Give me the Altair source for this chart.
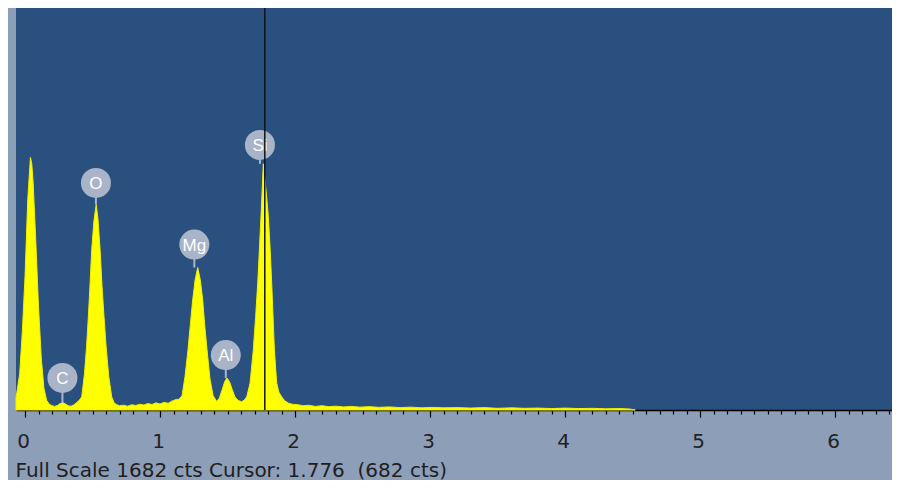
import altair as alt
import pandas as pd

# ---- spectrum (energy in keV, counts) ----
energy_kev = [-0.067, -0.04, -0.02, 0.00, 0.02, 0.04, 0.05, 0.06, 0.08, 0.10,
              0.12, 0.14, 0.16, 0.18, 0.20, 0.22, 0.24, 0.26, 0.28, 0.30,
              0.32, 0.34, 0.36, 0.38, 0.40, 0.42, 0.44, 0.455, 0.469, 0.48,
              0.494, 0.51, 0.527, 0.54, 0.556, 0.57, 0.585, 0.60, 0.62, 0.642,
              0.66, 0.68, 0.70, 0.73, 0.76, 0.79, 0.82, 0.85, 0.88, 0.91,
              0.94, 0.97, 1.00, 1.03, 1.06, 1.09, 1.12, 1.14, 1.163, 1.185,
              1.207, 1.225, 1.242, 1.26, 1.279, 1.298, 1.316, 1.33, 1.348, 1.37,
              1.393, 1.42, 1.44, 1.46, 1.48, 1.496, 1.515, 1.535, 1.555, 1.578,
              1.605, 1.625, 1.642, 1.667, 1.691, 1.708, 1.724, 1.748, 1.765, 1.785,
              1.802, 1.815, 1.827, 1.847, 1.864, 1.88, 1.901, 1.925, 1.95, 1.98,
              2.02, 2.06, 2.10, 2.15, 2.20, 2.25, 2.30, 2.36, 2.42, 2.48,
              2.55, 2.62, 2.70, 2.78, 2.86, 2.94, 3.02, 3.10, 3.20, 3.30,
              3.40, 3.50, 3.60, 3.70, 3.80, 3.90, 4.00, 4.10, 4.20, 4.30,
              4.40, 4.48, 4.52]
counts = [50, 150, 330, 560, 880, 1057, 1030, 950, 700, 430,
          220, 90, 40, 24, 18, 15, 19, 27, 31, 25,
          18, 16, 21, 30, 40, 55, 150, 260, 390, 510,
          671, 790, 860, 800, 671, 520, 390, 270, 140, 55,
          30, 22, 18, 20, 16, 22, 19, 24, 21, 27,
          23, 30, 25, 32, 28, 38, 44, 45, 60, 140,
          252, 360, 461, 545, 596, 545, 461, 360, 252, 130,
          60, 36, 50, 85, 120, 134, 118, 85, 55, 40,
          35, 42, 55, 113, 252, 390, 533, 811, 1030, 920,
          811, 680, 533, 252, 113, 75, 55, 38, 29, 24,
          22, 18, 20, 15, 18, 14, 16, 13, 15, 12,
          14, 11, 13, 10, 12, 9, 11, 9, 10, 8,
          10, 7, 9, 7, 8, 6, 8, 6, 7, 5,
          6, 4, 0]

# ---- element markers ----
elements = ["C", "O", "Mg", "Al", "Si"]
line_kev = [0.277, 0.525, 1.254, 1.487, 1.740]
peak_cts = [30, 860, 596, 134, 1030]
label_cts = [134, 950, 692, 230, 1109]

# ---- cursor ----
cursor_kev = [1.776]

tick_values = [0.0, 0.1, 0.2, 0.3, 0.4, 0.5, 0.6, 0.7, 0.8, 0.9,
               1.0, 1.1, 1.2, 1.3, 1.4, 1.5, 1.6, 1.7, 1.8, 1.9,
               2.0, 2.1, 2.2, 2.3, 2.4, 2.5, 2.6, 2.7, 2.8, 2.9,
               3.0, 3.1, 3.2, 3.3, 3.4, 3.5, 3.6, 3.7, 3.8, 3.9,
               4.0, 4.1, 4.2, 4.3, 4.4, 4.5, 4.6, 4.7, 4.8, 4.9,
               5.0, 5.1, 5.2, 5.3, 5.4, 5.5, 5.6, 5.7, 5.8, 5.9,
               6.0, 6.1, 6.2, 6.3, 6.4]

footer = "Full Scale 1682 cts Cursor: 1.776\u00a0 (682 cts)"

spec_df = pd.DataFrame({"kev": energy_kev, "cts": counts})
lab_df = pd.DataFrame({"el": elements, "kev": line_kev,
                       "peak": peak_cts, "lab": label_cts})
cur_df = pd.DataFrame({"kev": cursor_kev})

major_test = "abs(datum.value - round(datum.value)) < 0.001"

x_axis = alt.Axis(
    values=tick_values,
    tickSize={"condition": {"test": major_test, "value": 7}, "value": 4},
    labelExpr=f"{major_test} ? format(datum.value, 'd') : ''",
    labelOverlap=False, labelFlush=False, labelBound=False,
    labelFont="DejaVu Sans", labelFontSize=20, labelColor="#222222",
    labelPadding=14, labelOffset=-2,
    domainColor="#000000", domainWidth=1.5,
    tickColor="#000000", tickWidth=1.2,
    grid=False,
    title=footer, titleFont="DejaVu Sans", titleFontSize=20,
    titleFontWeight="normal", titleColor="#1e1e1e",
    titleX=-1, titleY=66, titleAlign="left", titleBaseline="alphabetic",
    titleAnchor="start",
)
x_scale = alt.Scale(domain=[-0.067, 6.422], nice=False, zero=False)
y_scale = alt.Scale(domain=[0, 1682], nice=False, zero=True)

x_enc = alt.X("kev:Q", scale=x_scale, axis=x_axis)

area = alt.Chart(spec_df).mark_area(
    color="#ffff00", interpolate="linear", stroke="#f0f000", strokeWidth=1
).encode(
    x=x_enc,
    y=alt.Y("cts:Q", scale=y_scale, axis=None),
)

stems = alt.Chart(lab_df).mark_rule(color="#a9b4c8", strokeWidth=2).encode(
    x=x_enc,
    y=alt.Y("peak:Q", scale=y_scale, axis=None),
    y2="lab:Q",
)

circles = alt.Chart(lab_df).mark_circle(
    color="#a9b4c8", opacity=1, size=900
).encode(
    x=x_enc,
    y=alt.Y("lab:Q", scale=y_scale, axis=None),
)

texts = alt.Chart(lab_df).mark_text(
    color="#ffffff", font="Liberation Sans", fontSize=17,
    baseline="middle", align="center", dy=1
).encode(
    x=x_enc,
    y=alt.Y("lab:Q", scale=y_scale, axis=None),
    text="el:N",
)

cursor = alt.Chart(cur_df).mark_rule(color="#0d1420", strokeWidth=1.5).encode(
    x=x_enc,
)

chart = alt.layer(area, stems, circles, texts, cursor).properties(
    width=876,
    height=402,
    padding={"left": 8, "top": 0, "right": 0, "bottom": 70},
    autosize=alt.AutoSizeParams(type="none"),
    background="#8d9eb9",
).configure_view(fill="#2a5080", stroke=None)

chart.save("out.html", embed_options={"renderer": "svg", "actions": False})
